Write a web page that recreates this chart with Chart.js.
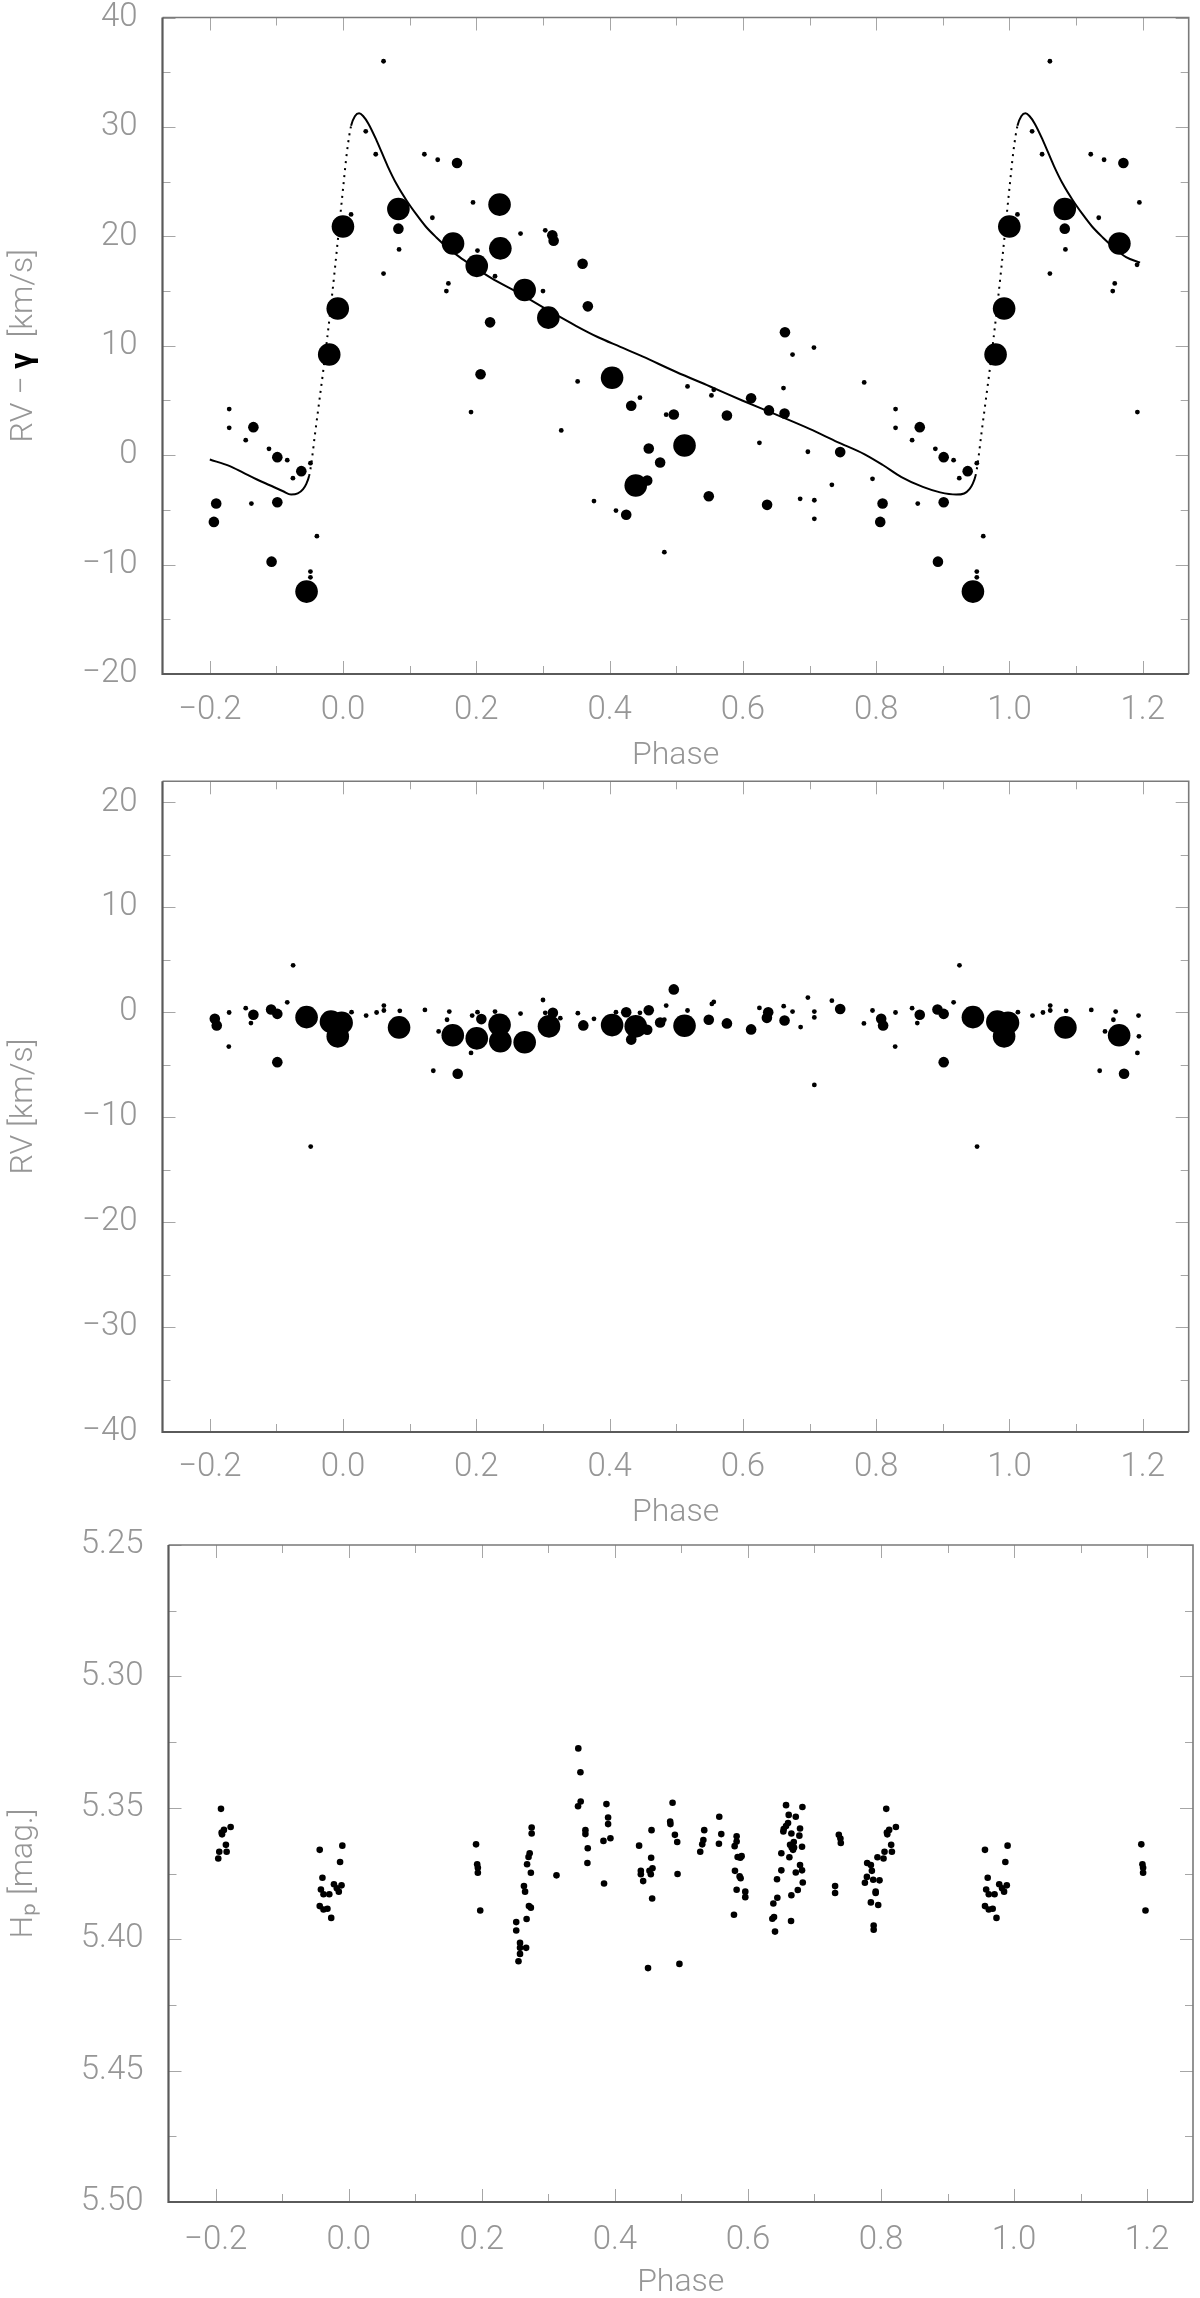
<!DOCTYPE html>
<html><head><meta charset="utf-8">
<script src="https://cdn.jsdelivr.net/npm/chart.js@4.4.0/dist/chart.umd.min.js"></script>
<style>
html,body{margin:0;padding:0;background:#fff;width:1200px;height:2298px;overflow:hidden;}
.p{position:absolute;left:0;width:1200px;}
canvas{display:block;}
</style></head><body>
<div class="p" style="top:0;height:780px"><canvas id="c1" width="1200" height="780"></canvas></div>
<div class="p" style="top:770px;height:770px"><canvas id="c2" width="1200" height="770"></canvas></div>
<div class="p" style="top:1528px;height:782px"><canvas id="c3" width="1200" height="782"></canvas></div>
<script>
// ---------- Tick values and labels ----------
const xTickValues = [-0.2, 0.0, 0.2, 0.4, 0.6, 0.8, 1.0, 1.2];
const xTickLabels = ['\u22120.2', '0.0', '0.2', '0.4', '0.6', '0.8', '1.0', '1.2'];
const xMinorValues = [-0.1, 0.1, 0.3, 0.5, 0.7, 0.9, 1.1];
const rvTickValues = [-20, -10, 0, 10, 20, 30, 40];
const rvTickLabels = ['\u221220', '\u221210', '0', '10', '20', '30', '40'];
const rvMinorValues = [-15, -5, 5, 15, 25, 35];
const resTickValues = [-40, -30, -20, -10, 0, 10, 20];
const resTickLabels = ['\u221240', '\u221230', '\u221220', '\u221210', '0', '10', '20'];
const resMinorValues = [-35, -25, -15, -5, 5, 15];
const hpTickValues = [5.25, 5.30, 5.35, 5.40, 5.45, 5.50];
const hpTickLabels = ['5.25', '5.30', '5.35', '5.40', '5.45', '5.50'];
const hpMinorValues = [5.275, 5.325, 5.375, 5.425, 5.475];

// ---------- Panel 1: RV - gamma (phase in one cycle, value, weight class) ----------
const rvPhase = [
 0.0607,0.034,0.049,0.122,0.142,0.171,0.195,0.083,0.012,0.083,0.134,0.165,0.084,0.1915,0.0607,0.158,0.155,0.192,
 0.2348,0.2663,0.3034,0.314,0.316,0.2017,0.236,0.2006,0.3594,0.228,0.2725,0.300,0.3673,0.308,0.2206,0.2063,0.352,0.3274,0.3765,
 0.4037,0.4455,0.5169,0.5528,0.5563,0.6123,0.6609,0.6631,0.6745,0.7066,0.782,0.4324,0.4849,0.4963,0.576,0.6391,0.6625,0.5124,0.4587,0.4758,0.4392,0.4564,0.4095,0.4249,0.4821,0.5488,0.6248,0.6363,0.6859,0.7072,0.7072,0.6975,0.7335,0.746,0.7945,
 0.8096,0.8061,0.8291,0.8291,0.8654,0.8539,0.8888,0.9013,0.9162,0.9247,0.9373,0.951,0.9013,0.8624,0.9607,0.8927,0.951,0.951,0.9452,0.9792,0.992,0.9998];
const rvValue = [
 36.0,29.6,27.5,27.5,27.0,26.7,23.1,22.5,22.0,20.7,21.7,19.35,18.8,17.4,16.6,15.7,15.0,3.94,
 22.9,20.25,20.55,20.1,19.6,18.7,18.9,17.3,17.5,16.35,15.1,15.0,13.6,12.57,12.14,7.4,6.74,2.26,-4.2,
 7.08,5.25,6.28,5.46,5.98,5.2,6.13,11.23,9.19,9.83,6.65,4.52,3.7,3.72,3.63,4.09,3.81,0.89,0.61,-0.67,-2.77,-2.31,-5.06,-5.45,-8.87,-3.75,1.13,-4.54,-3.99,-4.12,-5.82,0.31,-2.71,0.28,-2.16,
 -4.42,-6.1,4.21,2.5,2.56,1.37,0.58,-0.18,-0.46,-2.1,-1.46,-0.73,-4.3,-4.42,-7.4,-9.73,-10.64,-11.16,-12.47,9.2,13.4,20.9];
const rvWeight = [
 1,1,1,1,1,2,1,3,1,2,1,3,1,1,1,1,1,1,
 3,1,1,2,2,1,3,3,2,1,3,1,2,3,2,2,1,1,1,
 3,1,1,1,1,2,1,2,1,1,1,2,1,2,2,2,2,3,2,2,3,2,1,2,1,2,1,2,1,1,1,1,1,2,1,
 2,2,1,1,2,1,1,2,1,1,2,1,2,1,1,2,1,1,3,3,3,3];

// Orbit fit curve
const fitPhase = [
 -0.20,-0.17,-0.15,-0.13,-0.11,-0.09,-0.078,-0.068,-0.060,-0.055,-0.051,-0.048,-0.042,-0.036,-0.030,-0.024,-0.018,-0.012,-0.006,
 0.000,0.006,0.012,0.018,0.024,0.030,0.038,0.050,0.067,0.080,0.095,0.110,0.124,0.140,0.158,0.175,0.193,0.222,0.267,0.309,0.350,
 0.382,0.416,0.450,0.500,0.550,0.599,0.650,0.700,0.742,0.782,0.810,0.838,0.870,0.896,0.920,0.932,0.940,0.945,0.949,0.952,0.958,
 0.964,0.970,0.976,0.982,0.988,0.994,1.000,1.006,1.012,1.018,1.024,1.030,1.038,1.050,1.067,1.080,1.095,1.110,1.124,1.140,1.158,1.175,1.196];
const fitValue = [
 -0.4,-1.0,-1.6,-2.2,-2.75,-3.3,-3.6,-3.5,-3.1,-2.6,-1.9,-0.9,2.0,4.8,7.6,10.6,13.8,17.2,20.8,
 24.4,27.8,30.1,31.0,31.25,31.0,30.3,28.8,26.4,24.8,23.3,22.0,20.9,19.9,18.9,18.1,17.35,16.2,14.7,13.2,11.8,
 10.8,9.9,9.0,7.6,6.3,5.0,3.7,2.4,1.2,0.1,-0.9,-2.0,-2.9,-3.4,-3.6,-3.5,-3.1,-2.6,-1.9,-0.9,2.0,
 4.8,7.6,10.6,13.8,17.2,20.8,24.4,27.8,30.1,31.0,31.25,31.0,30.3,28.8,26.4,24.8,23.3,22.0,20.9,19.9,18.9,18.1,17.6];

// ---------- Panel 2: residual RV ----------
const resPhase = [
 0.0127,0.0346,0.0503,0.0612,0.0612,0.0851,0.084,0.1228,0.1354,0.1434,0.1594,0.156,0.1646,0.172,0.192,0.1937,0.1943,
 0.2017,0.2006,0.2075,0.228,0.2348,0.236,0.2663,0.2725,0.300,0.3034,0.309,0.3148,0.326,0.3523,0.3605,0.3765,
 0.4037,0.4095,0.4249,0.4392,0.4324,0.4455,0.4587,0.4564,0.4758,0.4821,0.4849,0.4963,0.5124,0.5169,0.5488,0.5534,0.5563,0.576,0.6123,0.6248,0.638,0.636,0.6612,0.6625,0.6745,0.6866,0.6975,0.7072,0.7072,0.7072,0.7335,0.746,0.7816,0.7945,
 0.8075,0.8104,0.8285,0.829,0.8539,0.8654,0.8617,0.892,0.9013,0.9013,0.9162,0.925,0.9452,0.9514,0.9818,0.992,0.9978];
const resValue = [
 0.0,-0.32,-0.03,0.63,0.16,0.13,-1.45,0.22,-5.58,-1.83,0.06,-0.72,-2.2,-5.86,-3.88,-0.32,-2.3,
 0.0,-2.49,-0.66,0.06,-1.2,-2.77,-0.13,-2.87,1.16,-0.06,-1.35,-0.06,-0.57,-0.09,-1.26,-0.63,
 -1.23,0.0,0.0,-1.35,-2.61,-0.06,0.19,-1.67,-0.98,-0.72,0.63,2.17,-1.29,0.16,-0.72,0.79,0.98,-1.07,-1.64,0.41,0.0,-0.54,0.57,-0.79,0.06,-1.42,1.39,0.06,-0.5,-6.93,1.1,0.31,-1.07,0.16,
 -0.63,-1.26,-3.28,-0.03,0.38,-0.25,-1.04,0.25,-0.16,-4.76,0.94,4.47,-0.47,-12.8,-0.9,-2.3,-1.0];
const resWeight = [
 1,1,1,1,1,1,3,1,1,1,1,1,3,2,1,1,1,
 1,3,2,1,3,3,1,3,1,1,3,2,1,1,2,1,
 3,1,2,3,2,1,2,2,2,1,1,2,3,1,2,1,1,2,2,1,2,2,1,2,1,1,1,1,1,1,1,2,1,1,
 2,2,1,1,1,2,1,2,2,2,1,1,3,1,3,3,3];

// ---------- Panel 3: Hipparcos photometry ----------
const hpPhase = [
 0.1913,0.1930,0.1940,0.1940,0.1976,
 0.2749,0.2749,0.2719,0.2702,0.2680,0.2737,0.2633,0.2650,0.2708,0.2737,0.2517,0.2673,0.2517,0.2574,0.2574,0.2574,0.2551,0.2666,
 0.3122,
 0.3450,0.3482,0.3486,0.3446,0.3557,0.3557,0.3592,0.3587,0.3837,0.3873,0.3898,0.3898,0.3828,0.3933,
 0.4364,0.4551,0.4545,0.4390,0.4390,0.4425,0.4520,0.4565,0.4540,0.4560,0.4498,
 0.4867,0.4831,0.4835,0.4902,0.4937,0.4942,0.4970,
 0.5343,0.5330,0.5313,0.5283,0.5569,0.5599,0.5564,
 0.5830,0.5830,0.5800,0.5845,0.5905,0.5885,0.5805,0.5875,0.5890,0.5830,0.5960,0.5960,0.5790,
 0.6573,0.6613,0.6719,0.6819,0.6603,0.6573,0.6538,0.6532,0.6653,0.6783,0.6773,0.6689,0.6633,0.6658,0.6678,0.6693,0.6813,
 0.6502,0.6623,0.6783,0.6813,0.6719,0.6502,0.6437,0.6824,0.6749,0.6653,0.6442,0.6382,0.6392,0.6367,0.6648,0.6407,
 0.7366,0.7390,0.7396,0.7310,0.7310,
 0.8079,0.8224,0.8123,0.8089,0.8095,0.8153,0.8053,0.8164,0.7947,0.8038,0.7792,0.7848,0.7863,0.7788,0.7758,0.7883,0.7978,0.7920,0.7920,0.7848,0.7958,0.7890,0.7890,
 0.9563,0.9903,0.9869,0.9604,0.9581,0.9620,0.9707,0.9777,0.9820,0.9850,0.9891,0.9563,0.9620,0.9679,0.9736];
const hpMag = [
 5.3639,5.3715,5.3728,5.3747,5.3891,
 5.3575,5.3598,5.3673,5.3687,5.3715,5.3747,5.3798,5.3819,5.3874,5.3880,5.3935,5.3923,5.3967,5.4014,5.4033,5.4056,5.4084,5.4033,
 5.3757,
 5.3274,5.3365,5.3476,5.3494,5.3585,5.3600,5.3654,5.3710,5.3788,5.3486,5.3537,5.3562,5.3626,5.3616,
 5.3644,5.3585,5.3690,5.3740,5.3753,5.3779,5.3740,5.3730,5.3753,5.3845,5.4110,
 5.3481,5.3552,5.3562,5.3603,5.3630,5.3752,5.4094,
 5.3585,5.3623,5.3639,5.3667,5.3534,5.3600,5.3637,
 5.3608,5.3628,5.3646,5.3687,5.3684,5.3690,5.3740,5.3761,5.3768,5.3812,5.3819,5.3840,5.3907,
 5.3490,5.3527,5.3534,5.3497,5.3558,5.3569,5.3581,5.3590,5.3598,5.3579,5.3606,5.3630,5.3641,5.3651,5.3660,5.3651,5.3648,
 5.3673,5.3688,5.3718,5.3738,5.3746,5.3738,5.3772,5.3784,5.3813,5.3833,5.3842,5.3864,5.3916,5.3922,5.3931,5.3971,
 5.3603,5.3617,5.3634,5.3798,5.3824,
 5.3504,5.3573,5.3584,5.3594,5.3601,5.3641,5.3667,5.3667,5.3688,5.3693,5.3710,5.3718,5.3740,5.3763,5.3785,5.3774,5.3776,5.3819,5.3824,5.3860,5.3870,5.3948,5.3964,
 5.3660,5.3644,5.3706,5.3766,5.3811,5.3829,5.3829,5.3791,5.3806,5.3819,5.3795,5.3874,5.3887,5.3884,5.3919];

// ---------- helpers ----------
const X_MIN = -0.271, X_MAX = 1.269;
const TXT = '#969696';
const FAM = 'Roboto, "DejaVu Sans", sans-serif';
const TICKFONT = {family: FAM, size: 33, weight: '300', lineHeight: 1};
const TITLEFONT = {family: FAM, size: 32, weight: '300', lineHeight: 1};
const RADIUS = {1: 2.4, 2: 5.3, 3: 11.3};

// phase-folded plot: show the cycle from -0.2 to 1.2 (repeat data around the wrap)
function foldPoints(ph, val, w) {
  const out = [];
  for (let i = 0; i < ph.length; i++) {
    const wi = w ? w[i] : 1;
    out.push({x: ph[i], y: val[i], w: wi});
    if (ph[i] <= 0.2) out.push({x: ph[i] + 1, y: val[i], w: wi});
    if (ph[i] >= 0.8) out.push({x: ph[i] - 1, y: val[i], w: wi});
  }
  return out;
}

const framePlugin = {
  id: 'frame',
  afterDatasetsDraw(chart) {
    const {ctx, chartArea: a, scales} = chart;
    const sx = scales.x, sy = scales.y;
    const o = chart.options.plugins.frame;
    ctx.save();
    ctx.strokeStyle = '#a6a6a6';
    ctx.lineWidth = 1;
    ctx.beginPath();
    const vx = (vals, len) => vals.forEach(v => {
      const px = Math.round(sx.getPixelForValue(v)) + 0.5;
      ctx.moveTo(px, a.bottom); ctx.lineTo(px, a.bottom - len);
      ctx.moveTo(px, a.top); ctx.lineTo(px, a.top + len);
    });
    const vy = (vals, len) => vals.forEach(v => {
      const py = Math.round(sy.getPixelForValue(v)) + 0.5;
      ctx.moveTo(a.left, py); ctx.lineTo(a.left + len, py);
      ctx.moveTo(a.right, py); ctx.lineTo(a.right - len, py);
    });
    vx(xTickValues, 13); vx(xMinorValues, 8);
    vy(o.yMajor, 13); vy(o.yMinor, 8);
    ctx.stroke();
    // frame
    ctx.strokeStyle = '#7a7a7a'; ctx.lineWidth = 1.6;
    ctx.beginPath();
    ctx.moveTo(a.left, a.top); ctx.lineTo(a.right, a.top); ctx.lineTo(a.right, a.bottom);
    ctx.stroke();
    ctx.strokeStyle = '#5a5a5a'; ctx.lineWidth = 2.2;
    ctx.beginPath();
    ctx.moveTo(a.left, a.top); ctx.lineTo(a.left, a.bottom); ctx.lineTo(a.right, a.bottom);
    ctx.stroke();
    ctx.restore();
  },
  afterDraw(chart) {
    // the Greek gamma of the axis title is printed in black in the original
    const o = chart.options.plugins.frame;
    if (!o.gammaPrefix) return;
    const {ctx} = chart;
    const sy = chart.scales.y;
    const t = sy.options.title;
    const font = Chart.helpers.toFont(t.font);
    ctx.save();
    ctx.font = font.string;
    const full = ctx.measureText(t.text).width;
    const pre = ctx.measureText(o.gammaPrefix).width;
    const g = ctx.measureText('\u03b3').width;
    const cx = sy.left + font.lineHeight / 2 + 8;
    const cy = (sy.top + sy.bottom) / 2;
    const along = -full / 2 + pre + g / 2;
    ctx.translate(cx, cy - along);
    ctx.rotate(-Math.PI / 2);
    ctx.font = 'bold 32px ' + FAM;
    ctx.fillStyle = '#000';
    ctx.textAlign = 'center';
    ctx.textBaseline = 'middle';
    ctx.fillText('\u03b3', 0, 0);
    ctx.restore();
  }
};

function makeChart(id, c) {
  return new Chart(document.getElementById(id), {
    type: 'scatter',
    data: {datasets: c.datasets},
    options: {
      responsive: false, animation: false, devicePixelRatio: 1,
      layout: {padding: {top: c.top, right: 1200 - c.right, left: 0, bottom: 0}},
      plugins: {legend: {display: false}, tooltip: {enabled: false},
                frame: {yMajor: c.yTicks, yMinor: c.yMinor, gammaPrefix: c.gammaPrefix || null}},
      scales: {
        x: {
          type: 'linear', min: X_MIN, max: X_MAX,
          afterBuildTicks: s => { s.ticks = xTickValues.map(v => ({value: v})); },
          afterFit: s => { s.height = c.xAxisHeight; s.paddingLeft = 0; s.paddingRight = 0; },
          grid: {display: false}, border: {display: false},
          ticks: {autoSkip: false, maxRotation: 0, padding: c.xTickPad, color: TXT, font: TICKFONT,
                  callback: (v, i) => xTickLabels[i]},
          title: {display: true, text: 'Phase', color: TXT, font: TITLEFONT, padding: {top: 0, bottom: c.xTitlePad}}
        },
        y: {
          type: 'linear', min: c.yMin, max: c.yMax, reverse: !!c.reverse,
          afterBuildTicks: s => { s.ticks = c.yTicks.map(v => ({value: v})); },
          afterFit: s => { s.width = c.left; s.paddingTop = 0; s.paddingBottom = 0; },
          grid: {display: false}, border: {display: false},
          ticks: {autoSkip: false, padding: 17, color: TXT, font: TICKFONT,
                  callback: (v, i) => c.yLabels[i]},
          title: {display: true, text: c.yTitle, color: TXT, font: TITLEFONT, padding: {top: 8, bottom: 0}}
        }
      }
    },
    plugins: [framePlugin]
  });
}

const dotStyle = {
  backgroundColor: '#000', borderWidth: 0, borderColor: '#000',
  pointRadius: ctx => RADIUS[ctx.raw ? ctx.raw.w : 1],
  pointHoverRadius: ctx => RADIUS[ctx.raw ? ctx.raw.w : 1],
  order: 0
};

// Panel 1
makeChart('c1', {
  top: 17.5, right: 1192, left: 162.5, xAxisHeight: 780 - 674, xTickPad: 12, xTitlePad: 8,
  yMin: -20, yMax: 40, yTicks: rvTickValues, yLabels: rvTickLabels, yMinor: rvMinorValues,
  yTitle: 'RV \u2212 \u03b3  [km/s]', gammaPrefix: 'RV \u2212 ',
  datasets: [
    Object.assign({label: 'RV', data: foldPoints(rvPhase, rvValue, rvWeight)}, dotStyle),
    {type: 'line', label: 'fit', data: fitPhase.map((p, i) => ({x: p, y: fitValue[i]})),
     borderColor: '#000', borderWidth: 2, pointRadius: 0, fill: false,
     cubicInterpolationMode: 'monotone', order: 1,
     segment: {borderDash: s => Math.abs((s.p1.parsed.y - s.p0.parsed.y) / (s.p1.parsed.x - s.p0.parsed.x)) > 250 ? [2, 5] : undefined}}
  ]
});

// Panel 2
makeChart('c2', {
  top: 8, right: 1193, left: 162.5, xAxisHeight: 770 - 662, xTickPad: 11, xTitlePad: 11,
  yMin: -40, yMax: 22, yTicks: resTickValues, yLabels: resTickLabels, yMinor: resMinorValues,
  yTitle: 'RV [km/s]',
  datasets: [Object.assign({label: 'O-C', data: foldPoints(resPhase, resValue, resWeight)}, dotStyle)]
});

// Panel 3
makeChart('c3', {
  top: 17, right: 1193, left: 168.5, xAxisHeight: 782 - 674, xTickPad: 14, xTitlePad: 11,
  yMin: 5.25, yMax: 5.50, reverse: true, yTicks: hpTickValues, yLabels: hpTickLabels, yMinor: hpMinorValues,
  yTitle: 'H\u209a [mag.]',
  datasets: [{label: 'Hp', data: foldPoints(hpPhase, hpMag, null), backgroundColor: '#000', borderWidth: 0,
              pointRadius: 3.3, pointHoverRadius: 3.3}]
});
</script>
</body></html>
